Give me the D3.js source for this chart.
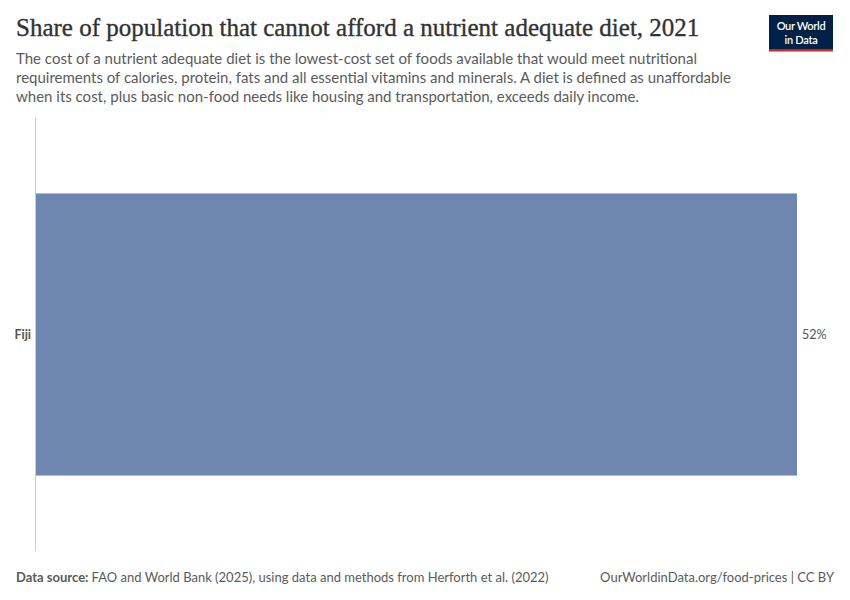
<!DOCTYPE html>
<html><head><meta charset="utf-8">
<script src="https://cdn.jsdelivr.net/npm/d3@7"></script>
<style>body{margin:0;background:#fff}</style>
</head><body>
<script>
const categories = ["Fiji"];
const values = [52];
const valueLabels = ["52%"];

const W = 850, H = 600;
const svg = d3.select("body").append("svg").attr("width", W).attr("height", H)
  .style("font-family", "Lato, sans-serif");

svg.append("text").attr("x", 16).attr("y", 36)
  .attr("font-family", "'Liberation Serif', 'DejaVu Serif', serif")
  .attr("font-size", 25).attr("fill", "#333").attr("stroke", "#333").attr("stroke-width", 0.35)
  .text("Share of population that cannot afford a nutrient adequate diet, 2021");

const sub = [
  "The cost of a nutrient adequate diet is the lowest-cost set of foods available that would meet nutritional",
  "requirements of calories, protein, fats and all essential vitamins and minerals. A diet is defined as unaffordable",
  "when its cost, plus basic non-food needs like housing and transportation, exceeds daily income."
];
svg.selectAll(".sub").data(sub).enter().append("text")
  .attr("x", 16).attr("y", (d, i) => 64 + i * 19)
  .attr("font-size", 15).attr("fill", "#5b5b5b").text(d => d);

// logo
const logo = svg.append("g").attr("transform", "translate(769,15)");
logo.append("rect").attr("width", 64).attr("height", 36).attr("fill", "#002147");
logo.append("rect").attr("y", 34).attr("width", 64).attr("height", 2.5).attr("fill", "#ce261e");
logo.append("text").attr("x", 32).attr("y", 15).attr("text-anchor", "middle")
  .attr("font-size", 11).attr("font-weight", 600).attr("fill", "#fff").attr("letter-spacing", -0.3).text("Our World");
logo.append("text").attr("x", 32).attr("y", 29).attr("text-anchor", "middle")
  .attr("font-size", 11).attr("font-weight", 600).attr("fill", "#fff").attr("letter-spacing", -0.3).text("in Data");

const x = d3.scaleLinear().domain([0, d3.max(values)]).range([36, 797]);
const y = d3.scaleBand().domain(categories).range([118, 551]).padding(0.211);

svg.append("line").attr("x1", 35.5).attr("x2", 35.5).attr("y1", 118).attr("y2", 551)
  .attr("stroke", "#ccc").attr("stroke-width", 1);

svg.selectAll(".bar").data(categories).enter().append("rect")
  .attr("x", x(0)).attr("y", d => y(d))
  .attr("width", (d, i) => x(values[i]) - x(0)).attr("height", y.bandwidth())
  .attr("fill", "#6d87b0");

svg.selectAll(".cat").data(categories).enter().append("text")
  .attr("x", 31).attr("y", d => y(d) + y.bandwidth() / 2).attr("dy", "0.35em")
  .attr("text-anchor", "end").attr("font-size", 12.5).attr("font-weight", "bold")
  .attr("fill", "#555").text(d => d);

svg.selectAll(".val").data(categories).enter().append("text")
  .attr("x", (d, i) => x(values[i]) + 5).attr("y", d => y(d) + y.bandwidth() / 2).attr("dy", "0.35em")
  .attr("font-size", 12.5).attr("fill", "#555").text((d, i) => valueLabels[i]);

const foot = svg.append("text").attr("x", 16).attr("y", 582).attr("font-size", 13).attr("fill", "#5b5b5b");
foot.append("tspan").attr("font-weight", "bold").text("Data source: ");
foot.append("tspan").text("FAO and World Bank (2025), using data and methods from Herforth et al. (2022)");
svg.append("text").attr("x", 834).attr("y", 582).attr("text-anchor", "end")
  .attr("font-size", 13).attr("fill", "#5b5b5b").text("OurWorldinData.org/food-prices | CC BY");
</script>
</body></html>
